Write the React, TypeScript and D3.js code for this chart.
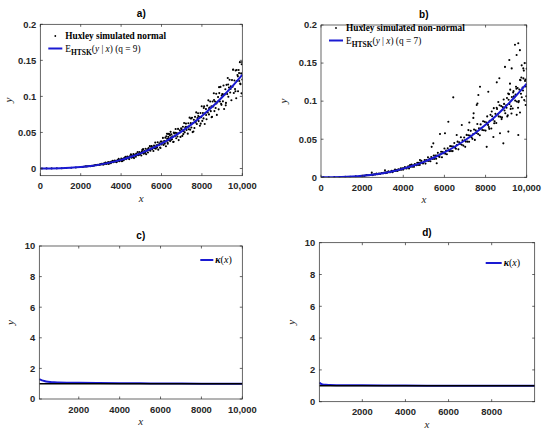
import React from "react";
import * as d3 from "d3";

type Pt = [number, number];

// ---------- DATA ----------
const A_POINTS: Pt[] = [
  [80,0],[310,0.0001],[560,0.0001],[820,0.0002],[1060,0.0004],[1290,0.0006],[1530,0.0010],[1760,0.0014],[1990,0.0020],[2080,0.0020],[2150,0.0024],[2230,0.0030],[2290,0.0029],[2350,0.0031],[2420,0.0034],[2480,0.0032],[2560,0.0036],[2620,0.0038],[2680,0.0043],[2740,0.0048],[2790,0.0047],[2850,0.0051],[2910,0.0051],[2950,0.0053],[2980,0.0058],
  [3030,0.0066],[3060,0.0057],[3100,0.0064],[3130,0.0054],[3160,0.0071],[3190,0.0067],[3230,0.0083],[3260,0.0064],[3290,0.0076],[3330,0.0070],[3360,0.0088],[3390,0.0064],[3420,0.0080],[3460,0.0088],[3490,0.0073],[3520,0.0095],[3550,0.0086],[3590,0.0107],[3620,0.0086],[3650,0.0098],[3690,0.0110],[3720,0.0095],[3750,0.0104],[3780,0.0088],[3820,0.0116],[3850,0.0108],[3880,0.0133],[3910,0.0102],[3950,0.0121],[3980,0.0110],
  [4010,0.0138],[4040,0.0100],[4070,0.0126],[4100,0.0136],[4130,0.0114],[4160,0.0147],[4190,0.0132],[4220,0.0163],[4250,0.0130],[4280,0.0148],[4310,0.0164],[4340,0.0142],[4370,0.0155],[4400,0.0130],[4430,0.0170],[4460,0.0158],[4490,0.0193],[4520,0.0149],[4550,0.0175],[4580,0.0159],[4610,0.0199],[4640,0.0144],[4670,0.0180],[4700,0.0194],[4730,0.0162],[4760,0.0208],[4790,0.0187],[4820,0.0229],[4850,0.0183],[4880,0.0208],[4910,0.0229],[4940,0.0198],[4970,0.0215],[4060,0.0105],[4200,0.0148],[4350,0.0149],[4480,0.0192],[4600,0.0156],[4750,0.0196],[4900,0.0190],
  [5000,0.0180],[5030,0.0235],[5060,0.0219],[5090,0.0268],[5120,0.0206],[5150,0.0242],[5180,0.0219],[5210,0.0273],[5240,0.0197],[5270,0.0247],[5300,0.0266],[5330,0.0221],[5360,0.0284],[5390,0.0254],[5420,0.0310],[5450,0.0247],[5480,0.0281],[5510,0.0310],[5540,0.0267],[5570,0.0290],[5600,0.0243],[5630,0.0317],[5660,0.0294],[5690,0.0359],[5720,0.0275],[5750,0.0322],[5780,0.0292],[5810,0.0363],[5840,0.0261],[5870,0.0327],[5900,0.0351],[5930,0.0292],[5960,0.0373],[5990,0.0333],[5050,0.0258],[5200,0.0219],[5350,0.0264],[5500,0.0308],[5650,0.0281],[5800,0.0323],[5950,0.0284],
  [6010,0.0374],[6040,0.0348],[6070,0.0424],[6100,0.0325],[6130,0.0380],[6160,0.0344],[6190,0.0428],[6220,0.0308],[6250,0.0385],[6280,0.0413],[6310,0.0343],[6340,0.0439],[6370,0.0391],[6400,0.0478],[6430,0.0380],[6460,0.0430],[6490,0.0473],[6520,0.0406],[6550,0.0442],[6580,0.0368],[6610,0.0497],[6640,0.0485],[6670,0.0450],[6700,0.0547],[6730,0.0419],[6760,0.0490],[6790,0.0443],[6820,0.0549],[6850,0.0394],[6880,0.0492],[6910,0.0528],[6940,0.0438],[6970,0.0559],[6150,0.0358],[6240,0.0448],[6300,0.0361],[6360,0.0414],[6420,0.0461],[6480,0.0400],[6540,0.0440],[6600,0.0371],[6690,0.0495],[6330,0.0480],[6270,0.0481],[6450,0.0508],
  [7000,0.0545],[7030,0.0452],[7060,0.0579],[7090,0.0516],[7120,0.0630],[7150,0.0501],[7180,0.0567],[7210,0.0623],[7240,0.0534],[7270,0.0580],[7300,0.0483],[7330,0.0627],[7360,0.0581],[7390,0.0705],[7420,0.0539],[7450,0.0629],[7480,0.0568],[7510,0.0704],[7540,0.0505],[7570,0.0631],[7600,0.0676],[7630,0.0561],[7660,0.0716],[7690,0.0638],[7720,0.0778],[7750,0.0618],[7780,0.0699],[7810,0.0767],[7840,0.0657],[7870,0.0713],[7900,0.0593],[7930,0.0769],[7960,0.0712],[7990,0.0864],[7080,0.0477],[7200,0.0577],[7350,0.0544],[7460,0.0692],[7580,0.0513],[7700,0.0660],[7820,0.0729],[7940,0.0622],
  [8020,0.0660],[8050,0.0770],[8080,0.0695],[8110,0.0861],[8140,0.0618],[8170,0.0770],[8200,0.0824],[8230,0.0683],[8260,0.0872],[8290,0.0776],[8320,0.0945],[8350,0.0750],[8380,0.0847],[8410,0.0929],[8440,0.0795],[8470,0.0861],[8500,0.0716],[8530,0.0929],[8560,0.0860],[8590,0.1043],[8620,0.0796],[8650,0.0929],[8680,0.0838],[8710,0.1037],[8740,0.0743],[8770,0.0926],[8800,0.0990],[8830,0.0820],[8860,0.1046],[8890,0.0930],[8920,0.1132],[8950,0.0897],[8980,0.1013],[8090,0.0840],[8210,0.0741],[8360,0.0834],[8480,0.0711],[8600,0.0950],[8720,0.0903],[8850,0.1128],[8970,0.0883],
  [9010,0.1032],[9040,0.0931],[9070,0.1151],[9100,0.0825],[9130,0.1028],[9160,0.1099],[9190,0.0910],[9220,0.1160],[9250,0.1032],[9280,0.1255],[9310,0.0995],[9340,0.1123],[9370,0.1231],[9400,0.1053],[9430,0.1139],[9460,0.0946],[9490,0.1226],[9520,0.1133],[9550,0.1373],[9580,0.1048],[9610,0.1221],[9640,0.1101],[9670,0.1360],[9700,0.0974],[9730,0.1213],[9760,0.1296],[9790,0.1072],[9820,0.1366],[9850,0.1214],[9880,0.1475],[9910,0.1169],[9940,0.1319],[9970,0.1445],[10000,0.1235],[9060,0.1027],[9180,0.0876],[9300,0.1165],[9420,0.1103],[9540,0.1370],[9660,0.1071],[9780,0.1278],[9900,0.1179],[9990,0.1478],[9960,0.1042],[9840,0.1323],[9720,0.1367]
];

const B_POINTS: Pt[] = [
  [120,0],[380,0.0001],[650,0.0002],[900,0.0003],[1180,0.0005],[1420,0.0008],[1690,0.0012],[1930,0.0018],
  [2040,0.0021],[2100,0.0019],[2160,0.0024],[2220,0.0028],[2280,0.0026],[2340,0.0026],[2400,0.0031],[2460,0.0036],[2520,0.0029],[2580,0.0039],[2640,0.0038],[2700,0.0048],[2760,0.0041],[2820,0.0048],[2880,0.0043],[2940,0.0056],[2470,0.0061],
  [3000,0.0054],[3040,0.0053],[3080,0.0064],[3120,0.0055],[3160,0.0067],[3200,0.0057],[3240,0.0068],[3280,0.0078],[3320,0.0068],[3360,0.0066],[3400,0.0076],[3440,0.0085],[3480,0.0067],[3520,0.0086],[3560,0.0083],[3600,0.0101],[3640,0.0083],[3680,0.0096],[3720,0.0084],[3760,0.0106],[3800,0.0100],[3840,0.0098],[3880,0.0117],[3920,0.0100],[3960,0.0119],[3110,0.0093],
  [4000,0.0101],[4040,0.0120],[4080,0.0136],[4120,0.0118],[4160,0.0115],[4200,0.0131],[4240,0.0146],[4280,0.0116],[4320,0.0146],[4360,0.0140],[4400,0.0169],[4440,0.0139],[4480,0.0159],[4520,0.0137],[4560,0.0174],[4600,0.0164],[4640,0.0159],[4680,0.0190],[4720,0.0161],[4760,0.0192],[4800,0.0163],[4840,0.0193],[4880,0.0216],[4920,0.0187],[4960,0.0181],[4330,0.0160],[4810,0.0227],
  [5000,0.0205],[5040,0.0228],[5080,0.0180],[5120,0.0227],[5160,0.0217],[5200,0.0262],[5240,0.0214],[5280,0.0244],[5320,0.0211],[5360,0.0266],[5400,0.0249],[5440,0.0241],[5480,0.0286],[5520,0.0242],[5560,0.0287],[5600,0.0243],[5640,0.0287],[5680,0.0321],[5720,0.0278],[5760,0.0268],[5800,0.0303],[5840,0.0336],[5880,0.0264],[5920,0.0332],[5960,0.0315],[5460,0.0446],[5380,0.0400],[5625,0.0184],[5785,0.0569],
  [6000,0.0379],[6040,0.0309],[6080,0.0352],[6120,0.0303],[6160,0.0382],[6200,0.0356],[6240,0.0344],[6280,0.0409],[6320,0.0344],[6360,0.0407],[6400,0.0344],[6440,0.0404],[6480,0.0450],[6520,0.0388],[6560,0.0374],[6600,0.0422],[6640,0.0468],[6680,0.0367],[6720,0.0461],[6760,0.0437],[6800,0.0525],[6840,0.0427],[6880,0.0485],[6920,0.0416],[6960,0.0523],[6430,0.1050],[6028,0.0578],[6190,0.0730],[6845,0.0687],[6597,0.0555],
  [7000,0.0486],[7040,0.0469],[7080,0.0557],[7120,0.0468],[7160,0.0553],[7200,0.0467],[7240,0.0548],[7280,0.0610],[7320,0.0526],[7360,0.0505],[7400,0.0568],[7440,0.0627],[7480,0.0491],[7520,0.0616],[7560,0.0583],[7600,0.0700],[7640,0.0569],[7680,0.0645],[7720,0.0553],[7760,0.0695],[7800,0.0646],[7840,0.0622],[7880,0.0736],[7920,0.0618],[7960,0.0728],[7605,0.0970],[7210,0.0720],[7405,0.0780],[7570,0.0950],[7420,0.0840],[7165,0.0620],[7010,0.0400],[7730,0.1190],[7650,0.1080],
  [8000,0.0613],[8040,0.0719],[8080,0.0800],[8120,0.0688],[8160,0.0661],[8200,0.0743],[8240,0.0820],[8280,0.0641],[8320,0.0802],[8360,0.0758],[8400,0.0908],[8440,0.0737],[8480,0.0833],[8520,0.0714],[8560,0.0896],[8600,0.0832],[8640,0.0800],[8680,0.0947],[8720,0.0794],[8760,0.0935],[8800,0.0787],[8840,0.0921],[8880,0.1022],[8920,0.0878],[8960,0.0842],[8620,0.0988],[8780,0.0764],[8900,0.0964],[8540,0.0914],[8420,0.0709],[8300,0.0865],[8180,0.0636],[8545,0.1247],[8670,0.1300],[8945,0.1450],[8380,0.0530],[8864,0.0446],[8702,0.0578],[8055,0.0400],[8133,0.1124],
  [9000,0.0945],[9040,0.1042],[9080,0.0815],[9120,0.1018],[9160,0.0961],[9200,0.1151],[9240,0.0933],[9280,0.1055],[9320,0.0903],[9360,0.1131],[9400,0.1049],[9440,0.1007],[9480,0.1189],[9520,0.0996],[9560,0.1172],[9600,0.0986],[9640,0.1153],[9680,0.1279],[9720,0.1098],[9760,0.1052],[9800,0.1180],[9840,0.1299],[9880,0.1014],[9920,0.1266],[9960,0.1193],[10000,0.1427],[9020,0.0913],[9140,0.1092],[9260,0.0837],[9380,0.1064],[9500,0.1163],[9620,0.1002],[9740,0.1311],[9860,0.1401],[9980,0.1065],[9940,0.1284],[9820,0.1140],[9700,0.1275],[9580,0.0914],[9460,0.1087],[9340,0.1114],[9220,0.0898],[9100,0.1099],
  [9155,0.1540],[9430,0.1740],[9590,0.1760],[9510,0.1606],[9670,0.1670],[9270,0.1430],[9835,0.1430],[9757,0.1470],[9057,0.0800],[9514,0.0820],[9674,0.0850],[9108,0.0600],[9592,0.0555],[9188,0.1230],[9900,0.1500],[9950,0.0950]
];

const FIT_X = [0, 500, 1000, 1500, 2000, 2500, 3000, 3500, 4000, 4500, 5000, 5500, 6000, 6500, 7000, 7500, 8000, 8500, 9000, 9500, 10000];
const A_FIT = [0, 0.00005, 0.0003, 0.0010, 0.0020, 0.0035, 0.0057, 0.0085, 0.0120, 0.0163, 0.0214, 0.0275, 0.0345, 0.0424, 0.0514, 0.0615, 0.0728, 0.0852, 0.0989, 0.1138, 0.1300];
const B_FIT = [0, 0.00005, 0.0003, 0.0009, 0.0019, 0.0034, 0.0054, 0.0080, 0.0114, 0.0154, 0.0203, 0.0260, 0.0326, 0.0401, 0.0486, 0.0582, 0.0689, 0.0806, 0.0936, 0.1077, 0.1230];

const C_KX = [70, 150, 250, 400, 600, 800, 1000, 1500, 2000, 3000, 4000, 5000, 6000, 7000, 8000, 9000, 10000];
const C_KAPPA = [1.30, 1.25, 1.20, 1.15, 1.11, 1.09, 1.08, 1.065, 1.055, 1.045, 1.035, 1.025, 1.015, 1.008, 1.003, 1.0, 1.0];
const D_KX = [5, 60, 150, 300, 500, 800, 1200, 2000, 3000, 4000, 5000, 6000, 7000, 8000, 9000, 9995];
const D_KAPPA = [1.20, 1.14, 1.09, 1.06, 1.05, 1.04, 1.035, 1.03, 1.025, 1.02, 1.01, 1.005, 1.0, 1.0, 1.0, 1.0];
const REF_LEVEL = 1;

const TOP_X_TICKS = [0, 2000, 4000, 6000, 8000, 10000];
const TOP_Y_TICKS = [0, 0.05, 0.1, 0.15, 0.2];
const C_X_TICKS = [2000, 4000, 6000, 8000, 10000];
const D_X_TICKS = [2000, 4000, 6000, 8000];
const BOTTOM_Y_TICKS = [0, 2, 4, 6, 8, 10];
const TITLES = ["a)", "b)", "c)", "d)"];
const SCATTER_NAMES = ["Huxley simulated normal", "Huxley simulated non-normal"];
const Q_VALUES = [9, 7];

// ---------- STYLE ----------
const AXIS = "#262626";
const BLUE = "#1a1ad2";
const SANS = "'Liberation Sans', Arial, Helvetica, sans-serif";
const SERIF = "'Liberation Serif', 'Times New Roman', serif";

const xFmt = (v: number) => (v >= 10000 ? d3.format(",")(v) : String(v));
const yFmt = (v: number) => String(+v.toFixed(2));

type Box = { l: number; r: number; t: number; b: number };

function Panel(props: {
  id: string;
  box: Box;
  xDomain: [number, number];
  yDomain: [number, number];
  xTicks: number[];
  yTicks: number[];
  title: string;
  yLabelX: number;
  children: (x: d3.ScaleLinear<number, number>, y: d3.ScaleLinear<number, number>) => React.ReactNode;
}) {
  const { box, xDomain, yDomain, xTicks, yTicks, title, yLabelX, id } = props;
  const x = d3.scaleLinear().domain(xDomain).range([box.l, box.r]);
  const y = d3.scaleLinear().domain(yDomain).range([box.b, box.t]);
  const tl = 2.5;
  const cx = (box.l + box.r) / 2;
  const cy = (box.t + box.b) / 2;
  return (
    <g>
      <defs>
        <clipPath id={id}>
          <rect x={box.l} y={box.t} width={box.r - box.l} height={box.b - box.t} />
        </clipPath>
      </defs>
      <g clipPath={`url(#${id})`}>{props.children(x, y)}</g>
      <rect x={box.l} y={box.t} width={box.r - box.l} height={box.b - box.t} fill="none" stroke={AXIS} strokeWidth={0.7} />
      {xTicks.map((v) => (
        <g key={"x" + v}>
          <line x1={x(v)} x2={x(v)} y1={box.b} y2={box.b - tl} stroke={AXIS} strokeWidth={0.7} />
          <line x1={x(v)} x2={x(v)} y1={box.t} y2={box.t + tl} stroke={AXIS} strokeWidth={0.7} />
          <text x={x(v)} y={box.b + 13.5} textAnchor="middle" fontFamily={SANS} fontWeight="bold" fontSize={9.4} fill={AXIS}>
            {xFmt(v)}
          </text>
        </g>
      ))}
      {yTicks.map((v) => (
        <g key={"y" + v}>
          <line x1={box.l} x2={box.l + tl} y1={y(v)} y2={y(v)} stroke={AXIS} strokeWidth={0.7} />
          <line x1={box.r} x2={box.r - tl} y1={y(v)} y2={y(v)} stroke={AXIS} strokeWidth={0.7} />
          <text x={box.l - 4} y={y(v) + 3.3} textAnchor="end" fontFamily={SANS} fontWeight="bold" fontSize={9.4} fill={AXIS}>
            {yFmt(v)}
          </text>
        </g>
      ))}
      <text x={cx} y={box.t - 7} textAnchor="middle" fontFamily={SANS} fontWeight="bold" fontSize={10} fill="#000">
        {title}
      </text>
      <text x={cx} y={box.b + 26} textAnchor="middle" fontFamily={SERIF} fontStyle="italic" fontSize={11} fill={AXIS}>
        x
      </text>
      <text transform={`translate(${yLabelX},${cy}) rotate(-90)`} textAnchor="middle" fontFamily={SERIF} fontStyle="italic" fontSize={11} fill={AXIS}>
        y
      </text>
    </g>
  );
}

function ScatterPanel(props: { id: string; box: Box; yDomain: [number, number]; points: Pt[]; fit: number[]; title: string; name: string; q: number; yLabelX: number; legY: number }) {
  const { box, points, fit, name, q, legY } = props;
  const lx = box.l + 8;
  return (
    <g>
      <Panel id={props.id} box={box} xDomain={[0, 10000]} yDomain={props.yDomain} xTicks={TOP_X_TICKS} yTicks={TOP_Y_TICKS} title={props.title} yLabelX={props.yLabelX}>
        {(x, y) => {
          const line = d3.line<number>().x((_, i) => x(FIT_X[i])).y((d) => y(d)).curve(d3.curveMonotoneX);
          return (
            <g>
              {points.map((p, i) => (
                <circle key={i} cx={x(p[0])} cy={y(p[1])} r={1.05} fill="#000" />
              ))}
              <path d={line(fit) || ""} fill="none" stroke={BLUE} strokeWidth={2} />
            </g>
          );
        }}
      </Panel>
      <circle cx={lx + 7} cy={legY - 3} r={0.9} fill="#000" />
      <text x={lx + 17} y={legY} fontFamily={SERIF} fontWeight="bold" fontSize={9.3} fill="#000">
        {name}
      </text>
      <line x1={lx} x2={lx + 14} y1={legY + 9.5} y2={legY + 9.5} stroke={BLUE} strokeWidth={2} />
      <text x={lx + 17} y={legY + 12.5} fontFamily={SERIF} fontSize={9.3} fill="#000">
        <tspan>E</tspan>
        <tspan fontWeight="bold" fontSize={7.5} dy={3}>HTSK</tspan>
        <tspan dy={-3}>(</tspan>
        <tspan fontStyle="italic">y</tspan>
        <tspan> | </tspan>
        <tspan fontStyle="italic">x</tspan>
        <tspan>) (q = {q})</tspan>
      </text>
    </g>
  );
}

function KappaPanel(props: { id: string; box: Box; xDomain: [number, number]; xTicks: number[]; kx: number[]; kappa: number[]; title: string; yLabelX: number; legDx: number; legY: number; legLen: number }) {
  const { box, kx, kappa, legDx, legY, legLen } = props;
  const lx = box.r - legDx;
  return (
    <g>
      <Panel id={props.id} box={box} xDomain={props.xDomain} yDomain={[0, 10]} xTicks={props.xTicks} yTicks={BOTTOM_Y_TICKS} title={props.title} yLabelX={props.yLabelX}>
        {(x, y) => {
          const line = d3.line<number>().x((_, i) => x(kx[i])).y((d) => y(d)).curve(d3.curveMonotoneX);
          return (
            <g>
              <path d={line(kappa) || ""} fill="none" stroke={BLUE} strokeWidth={2} />
              <line x1={x(props.xDomain[0])} x2={x(props.xDomain[1])} y1={y(REF_LEVEL)} y2={y(REF_LEVEL)} stroke="#000" strokeWidth={1.6} />
            </g>
          );
        }}
      </Panel>
      <line x1={lx} x2={lx + legLen} y1={legY} y2={legY} stroke={BLUE} strokeWidth={2} />
      <text x={lx + legLen + 2} y={legY + 3.3} fontFamily={SERIF} fontSize={10} fill="#000">
        <tspan fontWeight="bold" fontStyle="italic">κ</tspan>
        <tspan>(</tspan>
        <tspan fontStyle="italic">x</tspan>
        <tspan>)</tspan>
      </text>
    </g>
  );
}

export default function App() {
  return (
    <svg width={550} height={438} viewBox="0 0 550 438" style={{ position: "absolute", left: 0, top: 0, background: "#fff" }}>
      <rect x={0} y={0} width={550} height={438} fill="#fff" />
      <ScatterPanel id="ca" box={{ l: 40.3, r: 242.3, t: 24.3, b: 175.7 }} yDomain={[-0.01, 0.2]} points={A_POINTS} fit={A_FIT} title={TITLES[0]} name={SCATTER_NAMES[0]} q={Q_VALUES[0]} yLabelX={12} legY={39} />
      <ScatterPanel id="cb" box={{ l: 321, r: 526.7, t: 25, b: 177.3 }} yDomain={[0, 0.2]} points={B_POINTS} fit={B_FIT} title={TITLES[1]} name={SCATTER_NAMES[1]} q={Q_VALUES[1]} yLabelX={287} legY={31} />
      <KappaPanel id="cc" box={{ l: 39.3, r: 242.3, t: 246, b: 399 }} xDomain={[70, 10000]} xTicks={C_X_TICKS} kx={C_KX} kappa={C_KAPPA} title={TITLES[2]} yLabelX={14} legDx={42} legY={260} legLen={13} />
      <KappaPanel id="cd" box={{ l: 319.3, r: 534.7, t: 242.7, b: 401.7 }} xDomain={[5, 9995]} xTicks={D_X_TICKS} kx={D_KX} kappa={D_KAPPA} title={TITLES[3]} yLabelX={295} legDx={49} legY={263} legLen={16} />
    </svg>
  );
}
